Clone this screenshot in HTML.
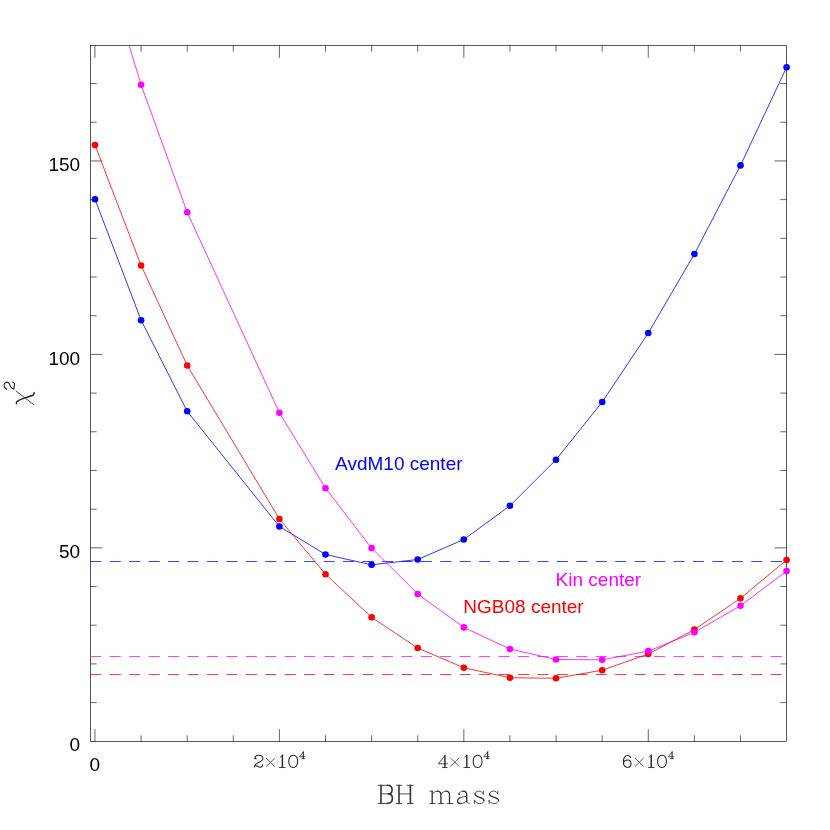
<!DOCTYPE html>
<html><head><meta charset="utf-8"><title>chi2 vs BH mass</title>
<style>
html,body{margin:0;padding:0;background:#fff;}
body{width:830px;height:830px;overflow:hidden;font-family:"Liberation Sans",sans-serif;}
svg{display:block;will-change:transform;}
text{font-family:"Liberation Sans",sans-serif;}
.ser text{font-family:"Liberation Serif",serif;}
</style></head><body>
<svg width="830" height="830" viewBox="0 0 830 830">
<rect x="0" y="0" width="830" height="830" fill="#fff"/>
<defs><clipPath id="cp"><rect x="90.0" y="45.3" width="701.0" height="701.0"/></clipPath></defs>

<g stroke="#000" stroke-width="0.65" fill="none">
<rect x="90.5" y="45.5" width="696.0" height="696.0"/>
</g>
<g stroke="#000" stroke-width="0.75" fill="none" stroke-opacity="0.8">
<path d="M94.95 45.50v12.3 M94.95 741.50v-12.3 M141.06 45.50v6.2 M141.06 741.50v-6.2 M187.17 45.50v6.2 M187.17 741.50v-6.2 M233.28 45.50v6.2 M233.28 741.50v-6.2 M279.39 45.50v12.3 M279.39 741.50v-12.3 M325.50 45.50v6.2 M325.50 741.50v-6.2 M371.61 45.50v6.2 M371.61 741.50v-6.2 M417.72 45.50v6.2 M417.72 741.50v-6.2 M463.83 45.50v12.3 M463.83 741.50v-12.3 M509.94 45.50v6.2 M509.94 741.50v-6.2 M556.05 45.50v6.2 M556.05 741.50v-6.2 M602.16 45.50v6.2 M602.16 741.50v-6.2 M648.27 45.50v12.3 M648.27 741.50v-12.3 M694.38 45.50v6.2 M694.38 741.50v-6.2 M740.49 45.50v6.2 M740.49 741.50v-6.2 M90.50 702.61h6.2 M786.50 702.61h-6.2 M90.50 663.92h6.2 M786.50 663.92h-6.2 M90.50 625.23h6.2 M786.50 625.23h-6.2 M90.50 586.54h6.2 M786.50 586.54h-6.2 M90.50 547.85h12.0 M786.50 547.85h-12.0 M90.50 509.16h6.2 M786.50 509.16h-6.2 M90.50 470.47h6.2 M786.50 470.47h-6.2 M90.50 431.78h6.2 M786.50 431.78h-6.2 M90.50 393.09h6.2 M786.50 393.09h-6.2 M90.50 354.40h12.0 M786.50 354.40h-12.0 M90.50 315.71h6.2 M786.50 315.71h-6.2 M90.50 277.02h6.2 M786.50 277.02h-6.2 M90.50 238.33h6.2 M786.50 238.33h-6.2 M90.50 199.64h6.2 M786.50 199.64h-6.2 M90.50 160.95h12.0 M786.50 160.95h-12.0 M90.50 122.26h6.2 M786.50 122.26h-6.2 M90.50 83.57h6.2 M786.50 83.57h-6.2"/>
</g>
<line x1="90.3" y1="561.5" x2="786.5" y2="561.5" stroke="#0000ff" stroke-width="0.75" stroke-dasharray="11.1 8.34"/>
<line x1="90.3" y1="674.5" x2="786.5" y2="674.5" stroke="#ff0000" stroke-width="0.75" stroke-dasharray="11.1 8.34"/>
<line x1="90.3" y1="656.5" x2="786.5" y2="656.5" stroke="#ff00ff" stroke-width="0.75" stroke-dasharray="11.1 8.34"/>
<g clip-path="url(#cp)"><polyline points="95.0,199.3 141.1,320.2 187.2,411.3 279.4,526.5 325.5,554.5 371.6,564.8 417.7,559.5 463.8,539.5 509.9,505.8 556.0,459.7 602.2,402.0 648.3,333.0 694.4,254.0 740.5,165.4 786.6,67.3" fill="none" stroke="#0000ff" stroke-width="0.8"/></g><g fill="#0000ff"><circle cx="95.0" cy="199.3" r="3.3"/><circle cx="141.1" cy="320.2" r="3.3"/><circle cx="187.2" cy="411.3" r="3.3"/><circle cx="279.4" cy="526.5" r="3.3"/><circle cx="325.5" cy="554.5" r="3.3"/><circle cx="371.6" cy="564.8" r="3.3"/><circle cx="417.7" cy="559.5" r="3.3"/><circle cx="463.8" cy="539.5" r="3.3"/><circle cx="509.9" cy="505.8" r="3.3"/><circle cx="556.0" cy="459.7" r="3.3"/><circle cx="602.2" cy="402.0" r="3.3"/><circle cx="648.3" cy="333.0" r="3.3"/><circle cx="694.4" cy="254.0" r="3.3"/><circle cx="740.5" cy="165.4" r="3.3"/><circle cx="786.6" cy="67.3" r="3.3"/></g>
<g clip-path="url(#cp)"><polyline points="95.0,145.1 141.1,265.5 187.2,365.5 279.4,519.0 325.5,574.2 371.6,617.3 417.7,648.0 463.8,667.8 509.9,677.7 556.0,678.3 602.2,670.2 648.3,654.0 694.4,629.6 740.5,598.3 786.6,560.0" fill="none" stroke="#ff0000" stroke-width="0.8"/></g><g fill="#ff0000"><circle cx="95.0" cy="145.1" r="3.3"/><circle cx="141.1" cy="265.5" r="3.3"/><circle cx="187.2" cy="365.5" r="3.3"/><circle cx="279.4" cy="519.0" r="3.3"/><circle cx="325.5" cy="574.2" r="3.3"/><circle cx="371.6" cy="617.3" r="3.3"/><circle cx="417.7" cy="648.0" r="3.3"/><circle cx="463.8" cy="667.8" r="3.3"/><circle cx="509.9" cy="677.7" r="3.3"/><circle cx="556.0" cy="678.3" r="3.3"/><circle cx="602.2" cy="670.2" r="3.3"/><circle cx="648.3" cy="654.0" r="3.3"/><circle cx="694.4" cy="629.6" r="3.3"/><circle cx="740.5" cy="598.3" r="3.3"/><circle cx="786.6" cy="560.0" r="3.3"/></g>
<g clip-path="url(#cp)"><polyline points="95.0,-66.6 141.1,84.8 187.2,212.3 279.4,412.8 325.5,488.2 371.6,548.1 417.7,594.0 463.8,627.4 509.9,649.0 556.0,659.5 602.2,659.8 648.3,651.1 694.4,632.3 740.5,605.8 786.6,571.1" fill="none" stroke="#ff00ff" stroke-width="0.8"/></g><g fill="#ff00ff"><circle cx="141.1" cy="84.8" r="3.3"/><circle cx="187.2" cy="212.3" r="3.3"/><circle cx="279.4" cy="412.8" r="3.3"/><circle cx="325.5" cy="488.2" r="3.3"/><circle cx="371.6" cy="548.1" r="3.3"/><circle cx="417.7" cy="594.0" r="3.3"/><circle cx="463.8" cy="627.4" r="3.3"/><circle cx="509.9" cy="649.0" r="3.3"/><circle cx="556.0" cy="659.5" r="3.3"/><circle cx="602.2" cy="659.8" r="3.3"/><circle cx="648.3" cy="651.1" r="3.3"/><circle cx="694.4" cy="632.3" r="3.3"/><circle cx="740.5" cy="605.8" r="3.3"/><circle cx="786.6" cy="571.1" r="3.3"/></g>
<g font-size="19px" fill="#000">
<text x="80.2" y="171.2" text-anchor="end">150</text>
<text x="80.2" y="364.5" text-anchor="end">100</text>
<text x="80.2" y="558.3" text-anchor="end">50</text>
<text x="80.2" y="751.2" text-anchor="end">0</text>
<text x="94.7" y="770.8" text-anchor="middle">0</text>
</g>
<g font-size="19px">
<text x="335.1" y="470.3" fill="#0000ff">AvdM10 center</text>
<text x="555.6" y="586.0" fill="#ff00ff">Kin center</text>
<text x="463.3" y="613.0" fill="#ff0000">NGB08 center</text>
</g>
<g stroke="#222" fill="none" stroke-linecap="round" stroke-linejoin="round">
<g transform="translate(254.0 767.5)"><path d="M1.3 -9.3C0.4 -10.5 1.6 -12.3 4.8 -12.3C7.5 -12.3 8.9 -10.6 8.9 -8.9C8.9 -6.5 6 -5.6 3.3 -4.4C1.2 -3.4 0.5 -2 0.3 -0.2M0.6 -2C2 -2.6 4.5 -0.2 6.5 -0.2C8 -0.2 8.5 -1.2 8.7 -3" stroke-width="1.05"/><path d="M1.1 -9.4L1.9 -8.7" stroke-width="1.4"/></g>
<g transform="translate(270.5 767.5)"><path d="M-4.1 -9.2L4.1 -1.2M4.1 -9.2L-4.1 -1.2" stroke-width="0.75"/></g>
<g transform="translate(282.4 767.5)"><path d="M-2.1 -10.4L0 -12.2M-2.9 0H2.9" stroke-width="0.8"/><path d="M0 -12.2V0" stroke-width="1.4"/></g>
<g transform="translate(293.2 767.5)"><path d="M0 -12.2C-2.9 -12.2 -4.4 -9.6 -4.4 -6.1C-4.4 -2.6 -2.9 0 0 0C2.9 0 4.4 -2.6 4.4 -6.1C4.4 -9.6 2.9 -12.2 0 -12.2Z" stroke-width="1.05"/></g>
<g transform="translate(298.9 758.8)"><path d="M4.4 -6.9L0.6 -2.1H6M3 -0.2H5.6" stroke-width="0.75"/><path d="M4.4 -6.9V-0.2" stroke-width="1.1"/></g>
<g transform="translate(438.4 767.5)"><path d="M6.5 -11.9L0 -3.7H9.1M4 0H8.7" stroke-width="0.8"/><path d="M6.5 -11.9V0" stroke-width="1.4"/></g>
<g transform="translate(454.9 767.5)"><path d="M-4.1 -9.2L4.1 -1.2M4.1 -9.2L-4.1 -1.2" stroke-width="0.75"/></g>
<g transform="translate(466.8 767.5)"><path d="M-2.1 -10.4L0 -12.2M-2.9 0H2.9" stroke-width="0.8"/><path d="M0 -12.2V0" stroke-width="1.4"/></g>
<g transform="translate(477.6 767.5)"><path d="M0 -12.2C-2.9 -12.2 -4.4 -9.6 -4.4 -6.1C-4.4 -2.6 -2.9 0 0 0C2.9 0 4.4 -2.6 4.4 -6.1C4.4 -9.6 2.9 -12.2 0 -12.2Z" stroke-width="1.05"/></g>
<g transform="translate(483.3 758.8)"><path d="M4.4 -6.9L0.6 -2.1H6M3 -0.2H5.6" stroke-width="0.75"/><path d="M4.4 -6.9V-0.2" stroke-width="1.1"/></g>
<g transform="translate(622.8 767.5)"><path d="M7.9 -10C7.6 -11.5 6.3 -12.1 5.1 -12.1C2 -12.1 0.6 -9 0.6 -5.6C0.6 -2.2 2 -0.2 4.6 -0.2C6.7 -0.2 8.2 -1.7 8.2 -4.1C8.2 -6.3 6.8 -7.6 4.8 -7.6C2.6 -7.6 0.9 -6.2 0.7 -4.2" stroke-width="1.05"/></g>
<g transform="translate(639.3 767.5)"><path d="M-4.1 -9.2L4.1 -1.2M4.1 -9.2L-4.1 -1.2" stroke-width="0.75"/></g>
<g transform="translate(651.2 767.5)"><path d="M-2.1 -10.4L0 -12.2M-2.9 0H2.9" stroke-width="0.8"/><path d="M0 -12.2V0" stroke-width="1.4"/></g>
<g transform="translate(662.0 767.5)"><path d="M0 -12.2C-2.9 -12.2 -4.4 -9.6 -4.4 -6.1C-4.4 -2.6 -2.9 0 0 0C2.9 0 4.4 -2.6 4.4 -6.1C4.4 -9.6 2.9 -12.2 0 -12.2Z" stroke-width="1.05"/></g>
<g transform="translate(667.7 758.8)"><path d="M4.4 -6.9L0.6 -2.1H6M3 -0.2H5.6" stroke-width="0.75"/><path d="M4.4 -6.9V-0.2" stroke-width="1.1"/></g>
</g>
<g stroke="#333" fill="none" stroke-linecap="round" stroke-linejoin="round">
<g transform="translate(378.0 803.5)"><path d="M0 -18.2H9.5M0 0H9M3 -9.6H10.5" stroke-width="0.85"/><path d="M3 -18.2V0M9.5 -18.2C12.6 -18.2 14.1 -16 14.1 -13.8C14.1 -11.5 12.8 -9.6 10.3 -9.6C13 -9.6 14.4 -7.4 14.4 -4.9C14.4 -2.3 12.6 0 9 0" stroke-width="1.6"/></g>
<g transform="translate(396.3 803.5)"><path d="M0 -18.2H5.5M10.9 -18.2H17M0 0H5.5M10.9 0H17M2.7 -9.6H14.1" stroke-width="0.85"/><path d="M2.7 -18.2V0M14.1 -18.2V0" stroke-width="1.6"/></g>
<g transform="translate(429.8 803.5)"><path d="M0 -12.4H2.4M0 0H5.3M8.7 0H14M17.3 0H23.1M2.4 -9C3.5 -11 5.5 -12.4 7.5 -12.4M11.1 -9C12.2 -11 14.2 -12.4 16.2 -12.4" stroke-width="0.85"/><path d="M2.4 -12.4V0M7.5 -12.4C10 -12.4 11.1 -11 11.1 -8.5V0M16.2 -12.4C18.7 -12.4 19.7 -11 19.7 -8.5V0" stroke-width="1.35"/></g>
<g transform="translate(457.3 803.5)"><path d="M1.8 -9.6C1.8 -11.2 3.5 -12.4 5.7 -12.4M9.4 -7.2C7 -7 4.5 -6.5 2.5 -5.6M3.7 0C6 0 8.2 -1.2 9.4 -2.8M9.4 -2C9.4 -0.6 10.3 0 12 -0.3" stroke-width="0.85"/><path d="M5.7 -12.4C8.3 -12.4 9.4 -11 9.4 -8.8V-2M1.6 -9.6L2.2 -9M2.5 -5.6C1 -4.9 0.2 -3.9 0.2 -2.6C0.2 -0.9 1.6 0 3.7 0" stroke-width="1.35"/></g>
<g transform="translate(474.1 803.5)"><path d="M9.2 -9.5V-12.4M0.5 -3.2V0M9.2 -9.5C8.5 -11.4 7 -12.4 4.9 -12.4C2.5 -12.4 0.9 -11.2 0.9 -9.6M9.9 -2.9C9.9 -1.1 8 0 5.4 0C3 0 1.2 -1.1 0.5 -3.2" stroke-width="0.85"/><path d="M0.9 -9.6C0.9 -8 2.3 -7.3 5 -6.4C8 -5.5 9.9 -4.7 9.9 -2.9" stroke-width="1.35"/></g>
<g transform="translate(488.6 803.5)"><path d="M9.2 -9.5V-12.4M0.5 -3.2V0M9.2 -9.5C8.5 -11.4 7 -12.4 4.9 -12.4C2.5 -12.4 0.9 -11.2 0.9 -9.6M9.9 -2.9C9.9 -1.1 8 0 5.4 0C3 0 1.2 -1.1 0.5 -3.2" stroke-width="0.85"/><path d="M0.9 -9.6C0.9 -8 2.3 -7.3 5 -6.4C8 -5.5 9.9 -4.7 9.9 -2.9" stroke-width="1.35"/></g>
</g>
<g stroke="#222" fill="none" stroke-linecap="round" stroke-linejoin="round">
<path d="M16.1 391.1L33.7 404.6" stroke-width="0.85"/>
<path d="M16.4 403.7Q16.3 402 17.2 401.3Q19 400 25.1 397.9Q31 396 32.8 395.3Q34 394.6 34.2 392.6" stroke-width="1.45"/>
<path d="M6.5 389.0Q5.2 388.6 4.4 387.0Q3.6 384.6 4.6 383.4Q5.6 382.1 7.3 382.1Q8.8 382.2 9.8 384.8Q10.6 387.2 12 388.2Q12.8 388.9 13.8 389.2L14.5 384.6Q14.4 383 13.6 382.5Q13 382.1 12.5 382.0" stroke-width="1.1"/>
<circle cx="6.4" cy="388.9" r="0.7" fill="#222" stroke="none"/>
</g>
</svg></body></html>
